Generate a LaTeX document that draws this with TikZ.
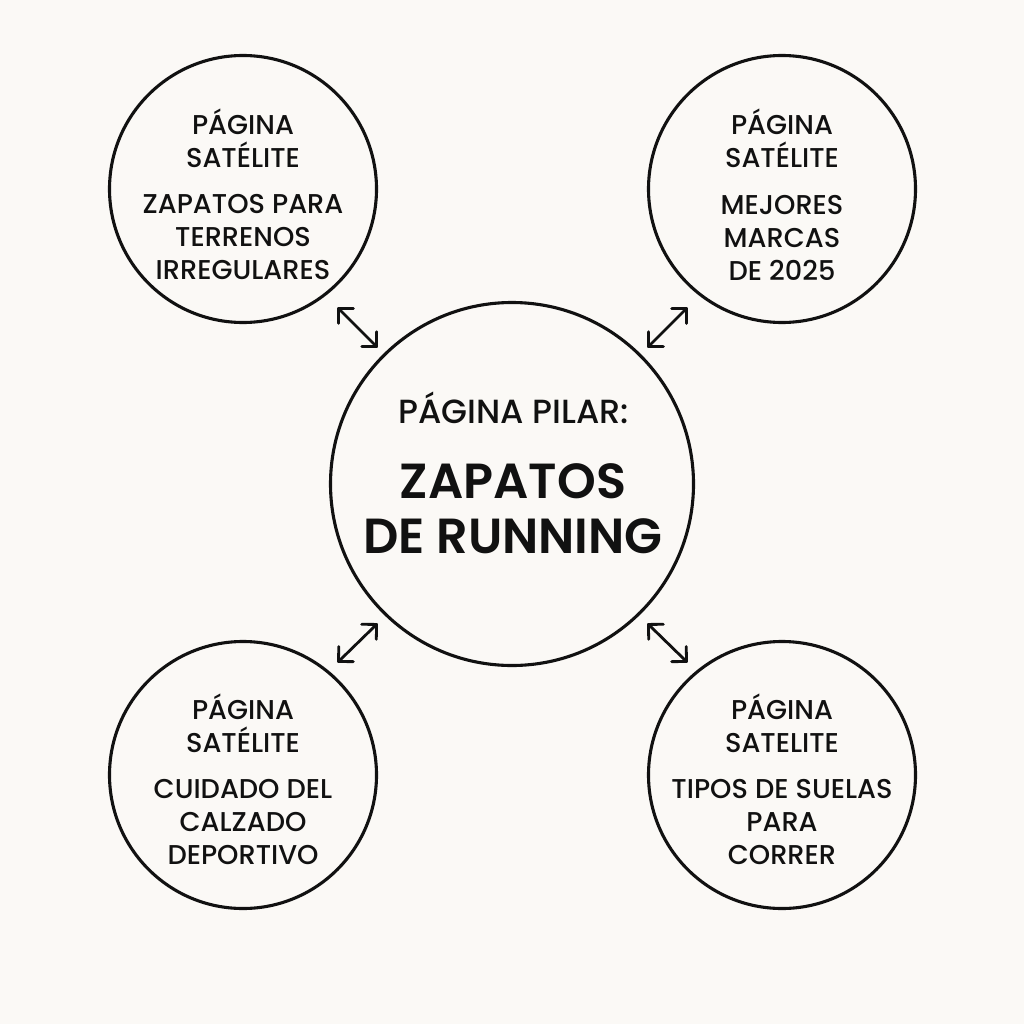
\documentclass[tikz,border=0pt]{standalone}
\usepackage{fontspec}
\setmainfont{Poppins Medium}[BoldFont={Poppins SemiBold}]
\usepackage{xcolor}
\usetikzlibrary{arrows.meta}
\definecolor{paper}{HTML}{FBF9F6}
\definecolor{ink}{HTML}{111111}
\tikzset{
    satellite/.style={circle,draw=ink,line width=3.1pt,minimum size=267pt,inner sep=0pt},
    pillarcircle/.style={circle,draw=ink,line width=3.1pt,minimum size=363pt,inner sep=0pt},
    sattext/.style={text=ink,align=center,inner sep=0pt,font=\fontsize{27.2}{33}\selectfont},
    pillarsub/.style={text=ink,align=center,inner sep=0pt,font=\fontsize{33.5}{33}\selectfont},
    pillartitle/.style={text=ink,align=center,inner sep=0pt,font=\fontsize{49.3}{55}\selectfont\bfseries},
    link/.style={draw=ink,line width=2.8pt,line cap=round,{Straight Barb[length=10.6pt,width=21pt,round]}-{Straight Barb[length=10.6pt,width=21pt,round]}}
}
\begin{document}
\begin{tikzpicture}[x=1pt,y=-1pt,line join=round]
    % page
    \fill[paper] (0,0) rectangle (1024,1024);
    \useasboundingbox (0,0) rectangle (1024,1024);

    % draw circles
    \node[pillarcircle] (pillar) at (512,484) {};
    \foreach \name/\x/\y in {satA/243/189,satB/782/189,satC/243/775,satD/782/775}
        \node[satellite] (\name) at (\x,\y) {};

    % draw texts
    \node[pillarsub] (pillarhead) at (513.5,407.5) {PÁGINA PILAR:};
    \node[pillartitle] (pillarname) at (513,509) {ZAPATOS\\DE RUNNING};

    \node[sattext] (textA) at (243,194) {PÁGINA\\SATÉLITE\\[13pt]ZAPATOS PARA\\TERRENOS\\IRREGULARES};
    \node[sattext] (textB) at (782,195) {PÁGINA\\SATÉLITE\\[14pt]MEJORES\\MARCAS\\DE 2025};
    \node[sattext] (textC) at (243,779) {PÁGINA\\SATÉLITE\\[13pt]CUIDADO DEL\\CALZADO\\DEPORTIVO};
    \node[sattext] (textD) at (782,779) {PÁGINA\\SATELITE\\[13pt]TIPOS DE SUELAS\\PARA\\CORRER};

    % draw arrows
    \draw[link] ([shift={(-1pt,-23pt)}]satA.-45) -- ([shift={(-5pt,7pt)}]pillar.135);
    \draw[link] ([shift={(1pt,-23pt)}]satB.-135) -- ([shift={(6pt,7pt)}]pillar.45);
    \draw[link] ([shift={(-1pt,17pt)}]satC.45) -- ([shift={(-5pt,-10pt)}]pillar.-135);
    \draw[link] ([shift={(1pt,17pt)}]satD.135) -- ([shift={(6pt,-10pt)}]pillar.-45);
\end{tikzpicture}
\end{document}
